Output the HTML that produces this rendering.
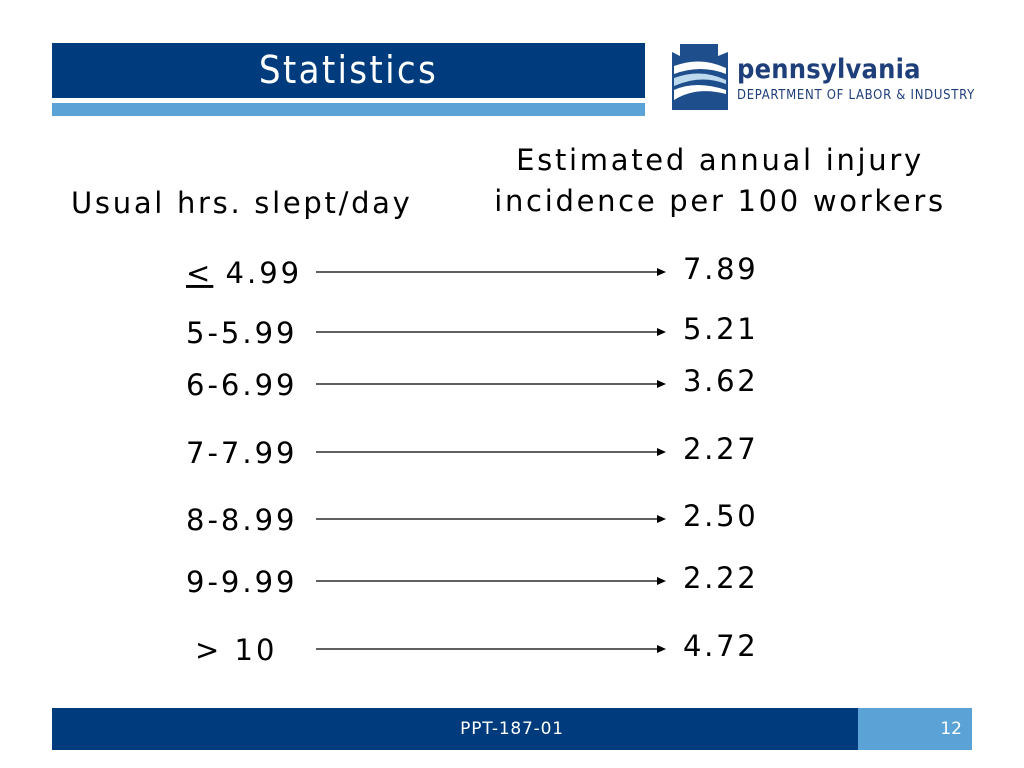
<!DOCTYPE html>
<html><head><meta charset="utf-8"><style>
body{margin:0;width:1024px;height:768px;background:#fff;position:relative;overflow:hidden;font-family:"DejaVu Sans","Liberation Sans",sans-serif;}
.a{position:absolute;white-space:nowrap;}
</style></head><body>
<div class="a" style="left:52px;top:43px;width:593px;height:55px;background:#003c7d;"></div>
<div class="a" style="left:52px;top:43px;width:593px;height:55px;line-height:55px;text-align:center;color:#fff;font-size:38px;letter-spacing:2.3px;font-family:'DejaVu Sans Condensed','DejaVu Sans',sans-serif;">Statistics</div>
<div class="a" style="left:52px;top:103px;width:593px;height:13px;background:#5ba3d6;"></div>
<svg class="a" style="left:666px;top:44px" width="66" height="66" viewBox="0 0 66 66">
<path d="M14 0H52V12L62 8V66H6V8L14 12Z" fill="#1f4e8c"/>
<path d="M8 22Q35 12 60 24V30Q35 20 8 30Z" fill="#fff"/>
<path d="M8 34Q35 24 60 36V40Q35 30 8 42Z" fill="#bcd9ee"/>
<path d="M8 46Q30 36 60 46V50Q30 42 8 56Z" fill="#fff"/>
</svg>
<div class="a" style="left:737px;top:54px;font-size:27px;font-weight:bold;color:#1f3f7a;font-family:'DejaVu Sans Condensed','DejaVu Sans',sans-serif;letter-spacing:0.2px;">pennsylvania</div>
<div class="a" style="left:737px;top:88px;font-size:13px;color:#1f3f7a;font-family:'DejaVu Sans Condensed','DejaVu Sans',sans-serif;letter-spacing:0.7px;">DEPARTMENT OF LABOR &amp; INDUSTRY</div>
<div class="a" style="left:71px;top:186px;font-size:29px;letter-spacing:2.7px;color:#000;">Usual hrs. slept/day</div>
<div class="a" style="left:460px;top:140px;width:520px;text-align:center;font-size:29px;letter-spacing:2.7px;line-height:41px;color:#000;">Estimated annual injury<br>incidence per 100 workers</div>
<svg class="a" id="rows" style="left:0;top:0" width="1024" height="768"></svg>
<div class="a" style="left:52px;top:708px;width:806px;height:42px;background:#003c7d;"></div>
<div class="a" style="left:52px;top:708px;width:920px;height:42px;line-height:42px;text-align:center;color:#fff;font-size:17px;letter-spacing:0.8px;">PPT-187-01</div>
<div class="a" style="left:858px;top:708px;width:114px;height:42px;background:#5ba3d6;"></div>
<div class="a" style="left:858px;top:708px;width:104px;height:42px;line-height:42px;text-align:right;color:#fff;font-size:17px;">12</div>
<script>
const labels=["≤4.99","5-5.99","6-6.99","7-7.99","8-8.99","9-9.99","> 10"];
const values=["7.89","5.21","3.62","2.27","2.50","2.22","4.72"];
const rowY=[272,332,384,452,519,581,649];
const svg=document.getElementById('rows');
const NS='http://www.w3.org/2000/svg';
labels.forEach((l,i)=>{
 const y=rowY[i];
 const t=document.createElementNS(NS,'text');
 
 
 t.setAttribute('x',i==6?195:186);t.setAttribute('y',y+11);
 t.setAttribute('font-size','29');t.setAttribute('font-family','DejaVu Sans, sans-serif');
 t.setAttribute('letter-spacing','3');
 if(i==0){t.innerHTML='<tspan text-decoration="underline">&lt;</tspan> 4.99';}else t.textContent=l;
 svg.appendChild(t);
 const ln=document.createElementNS(NS,'line');
 
 
 ln.setAttribute('x1',316);ln.setAttribute('x2',658);ln.setAttribute('y1',y);ln.setAttribute('y2',y);
 ln.setAttribute('stroke','#000');ln.setAttribute('stroke-width','1.2');
 svg.appendChild(ln);
 const h=document.createElementNS(NS,'path');
 
 
 h.setAttribute('d',`M657 ${y-4}L666 ${y}L657 ${y+4}Z`);
 svg.appendChild(h);
 const v=document.createElementNS(NS,'text');
 
 
 v.setAttribute('x',683);v.setAttribute('y',y+7);
 v.setAttribute('font-size','29');v.setAttribute('font-family','DejaVu Sans, sans-serif');
 v.setAttribute('letter-spacing','2.7');
 v.textContent=values[i];
 svg.appendChild(v);
});
</script>
</body></html>
